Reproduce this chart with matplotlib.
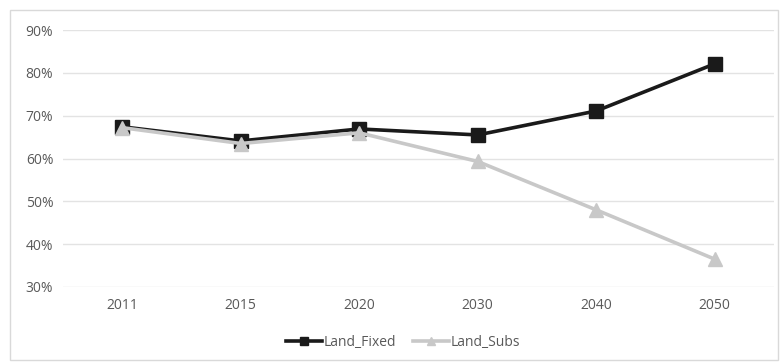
import matplotlib
matplotlib.use("Agg")
import matplotlib.pyplot as plt
from matplotlib.ticker import PercentFormatter
from matplotlib.patches import Rectangle

years = ["2011", "2015", "2020", "2030", "2040", "2050"]
land_fixed = [0.674, 0.641, 0.669, 0.655, 0.711, 0.821]
land_subs = [0.672, 0.635, 0.660, 0.593, 0.480, 0.365]
y_ticks = [0.3, 0.4, 0.5, 0.6, 0.7, 0.8, 0.9]

plt.rcParams['font.family'] = ['Open Sans', 'DejaVu Sans']

fig = plt.figure(figsize=(7.8, 3.62), dpi=100)
fig.patches.append(Rectangle((10 / 780, 0.005), 1 - 12 / 780, 1 - 10 / 362 - 0.005,
                             transform=fig.transFigure, fill=False,
                             edgecolor="#d9d9d9", linewidth=1))

ax = fig.add_axes([63 / 780, 1 - 287 / 362, 711 / 780, 257 / 362])
x = list(range(len(years)))

ax.plot(x, land_fixed, color="#1a1a1a", linewidth=2.6, marker="s",
        markersize=9.5, label="Land_Fixed", zorder=3)
ax.plot(x, land_subs, color="#c8c8c8", linewidth=2.6, marker="^",
        markersize=10, label="Land_Subs", zorder=4)

ax.set_xlim(-0.5, len(years) - 0.5)
ax.set_ylim(0.3, 0.9)
ax.set_xticks(x)
ax.set_xticklabels(years)
ax.set_yticks(y_ticks)
ax.yaxis.set_major_formatter(PercentFormatter(1.0, decimals=0))
ax.grid(axis="y", color="#e3e3e3", linewidth=1)
ax.set_axisbelow(True)
for s in ax.spines.values():
    s.set_visible(False)
ax.tick_params(axis="both", length=0, labelsize=10, labelcolor="#595959")
ax.tick_params(axis="x", pad=8)
ax.tick_params(axis="y", pad=7)

leg = fig.legend(loc="center", bbox_to_anchor=(403 / 780, 1 - 342 / 362), ncol=2,
                 frameon=False, fontsize=10, handlelength=2.6, handletextpad=0.1,
                 columnspacing=1.2, markerscale=0.55)
for t in leg.get_texts():
    t.set_color("#595959")

fig.savefig("out.png", dpi=100)
